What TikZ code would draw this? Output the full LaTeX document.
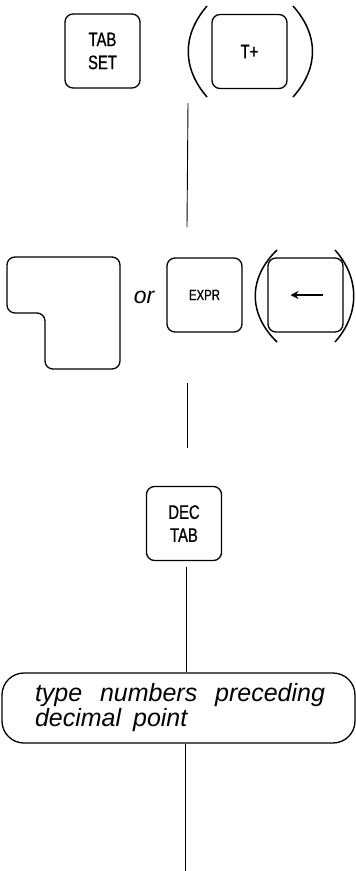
\documentclass[tikz,border=0pt]{standalone}
\usepackage{fontspec}
\setmainfont{Liberation Sans}
\newfontfamily\keyfont[FakeStretch=0.76,FakeBold=0.8]{Liberation Sans}
\usetikzlibrary{arrows.meta}

\begin{document}
\begin{tikzpicture}[x=1pt,y=-1pt,
  key/.style={draw,line width=1.3pt,rounded corners=8pt,minimum width=75pt,minimum height=74pt,
    inner sep=0pt,align=center,font=\keyfont\fontsize{19.5}{23}\selectfont},
  paren/.style={line width=1.5pt},
  link/.style={line width=0.9pt}]%,>=latex]
\useasboundingbox (0,0) rectangle (356,871);

% first row
\node[key] (tabset) at (102.5,51) {TAB\\SET};
\node[key] (tplus) at (249.5,51.5) {T+};
\draw[paren] (207,6) .. controls (182,35) and (182,68) .. (207,97);
\draw[paren] (293,6) .. controls (319,35) and (319,68) .. (293,97);

\coordinate (a1) at (188,103);
\coordinate (a2) at (187,227);
\draw[link] (a1) -- (a2);

% second row
\draw[line width=1.3pt,rounded corners=8pt] (7,257) -- (120,257) -- (120,369) -- (45,369)
  -- (45,313) -- (7,313) -- cycle;
\node[font=\itshape\fontsize{23}{23}\selectfont] (or) at (144,297) {or};
\node[key,font=\keyfont\fontsize{15}{16}\selectfont] (expr) at (204.5,295) {EXPR};
\node[key] (back) at (305.5,295) {};
\draw[line width=1.4pt,-{Stealth[length=8pt,width=8pt]}] ([xshift=17pt]back.center) -- ([xshift=-15pt]back.center);
\draw[paren] (277,250) .. controls (248,278) and (248,314) .. (277,342);
\draw[paren] (335,250) .. controls (360,278) and (360,314) .. (335,342);

\coordinate (b1) at (187,383);
\coordinate (b2) at (187,448);
\draw[link] (b1) -- (b2);

% third row
\node[key] (dectab) at (184,523.5) {DEC\\TAB};
\node[draw,line width=1.3pt,rounded corners=22pt,minimum width=353pt,minimum height=70pt] (note) at (178.5,708) {};
\node[text width=290pt,align=left,inner sep=0pt,font=\itshape\fontsize{25}{25}\selectfont] (notetext) at (180,708)
  {type\hfill numbers\hfill preceding\\decimal\hspace{12pt}point};

\coordinate (c1) at (186,567);
\coordinate (c2) at (185,871);
\draw[link] (c1) -- (c1 |- note.north);
\draw[link] (c2 |- note.south) -- (c2);
\end{tikzpicture}
\end{document}
